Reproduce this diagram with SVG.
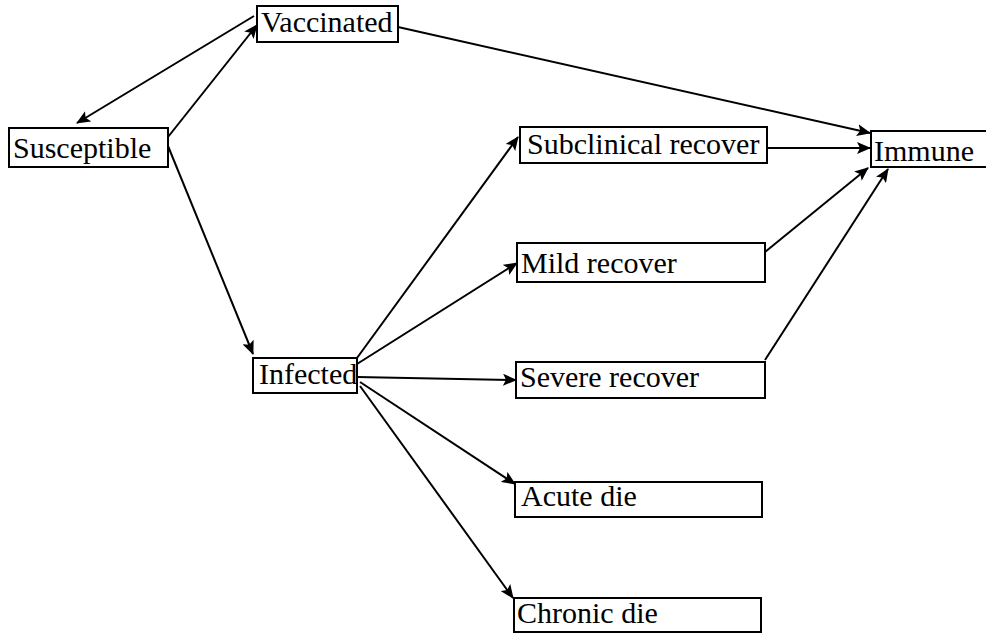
<svg xmlns="http://www.w3.org/2000/svg" width="986" height="634" viewBox="0 0 986 634">
<style>
.box{fill:#fff;stroke:#000;stroke-width:2}
.lbl{font-family:'Liberation Serif','Times New Roman',serif;font-size:30px;fill:#000}
.edge{stroke:#000;stroke-width:2;fill:none;marker-end:url(#ah)}
</style>
<defs>
<marker id="ah" markerUnits="userSpaceOnUse" markerWidth="14" markerHeight="12" viewBox="0 0 14 12" refX="13" refY="6" orient="auto">
<path d="M0,0 L14,6 L0,12 L3,6 Z" fill="#000"/>
</marker>
</defs>
<g id="connectors">
<line class="edge" x1="254" y1="16" x2="77" y2="123"/>
<line class="edge" x1="168" y1="137" x2="257" y2="25"/>
<line class="edge" x1="398" y1="27" x2="870" y2="133"/>
<line class="edge" x1="168" y1="146" x2="253" y2="354"/>
<line class="edge" x1="357" y1="358" x2="518" y2="137"/>
<line class="edge" x1="357" y1="364" x2="517" y2="263"/>
<line class="edge" x1="357" y1="377" x2="516" y2="380"/>
<line class="edge" x1="360" y1="382" x2="515" y2="484"/>
<line class="edge" x1="360" y1="386" x2="513" y2="598"/>
<line class="edge" x1="767" y1="148" x2="870" y2="148"/>
<line class="edge" x1="765" y1="252" x2="868" y2="168"/>
<line class="edge" x1="765" y1="360" x2="888" y2="169"/>
</g>
<g id="vaccinated"><rect class="box" x="257" y="6" width="141" height="36"/><text class="lbl" x="261" y="32">Vaccinated</text></g>
<g id="susceptible"><rect class="box" x="9" y="128" width="159" height="39"/><text class="lbl" x="13" y="158">Susceptible</text></g>
<g id="subclinical"><rect class="box" x="520" y="127" width="247" height="36"/><text class="lbl" x="527" y="154">Subclinical recover</text></g>
<g id="immune"><rect class="box" x="871" y="131" width="130" height="36"/><text class="lbl" x="874" y="161">Immune</text></g>
<g id="mild"><rect class="box" x="517" y="243" width="248" height="39"/><text class="lbl" x="521" y="273">Mild recover</text></g>
<g id="infected"><rect class="box" x="253" y="358" width="104" height="35"/><text class="lbl" x="259" y="384">Infected</text></g>
<g id="severe"><rect class="box" x="516" y="362" width="249" height="36"/><text class="lbl" x="520" y="387">Severe recover</text></g>
<g id="acute"><rect class="box" x="515" y="482" width="247" height="35"/><text class="lbl" x="521" y="506">Acute die</text></g>
<g id="chronic"><rect class="box" x="514" y="598" width="247" height="34"/><text class="lbl" x="517" y="623">Chronic die</text></g>
</svg>
